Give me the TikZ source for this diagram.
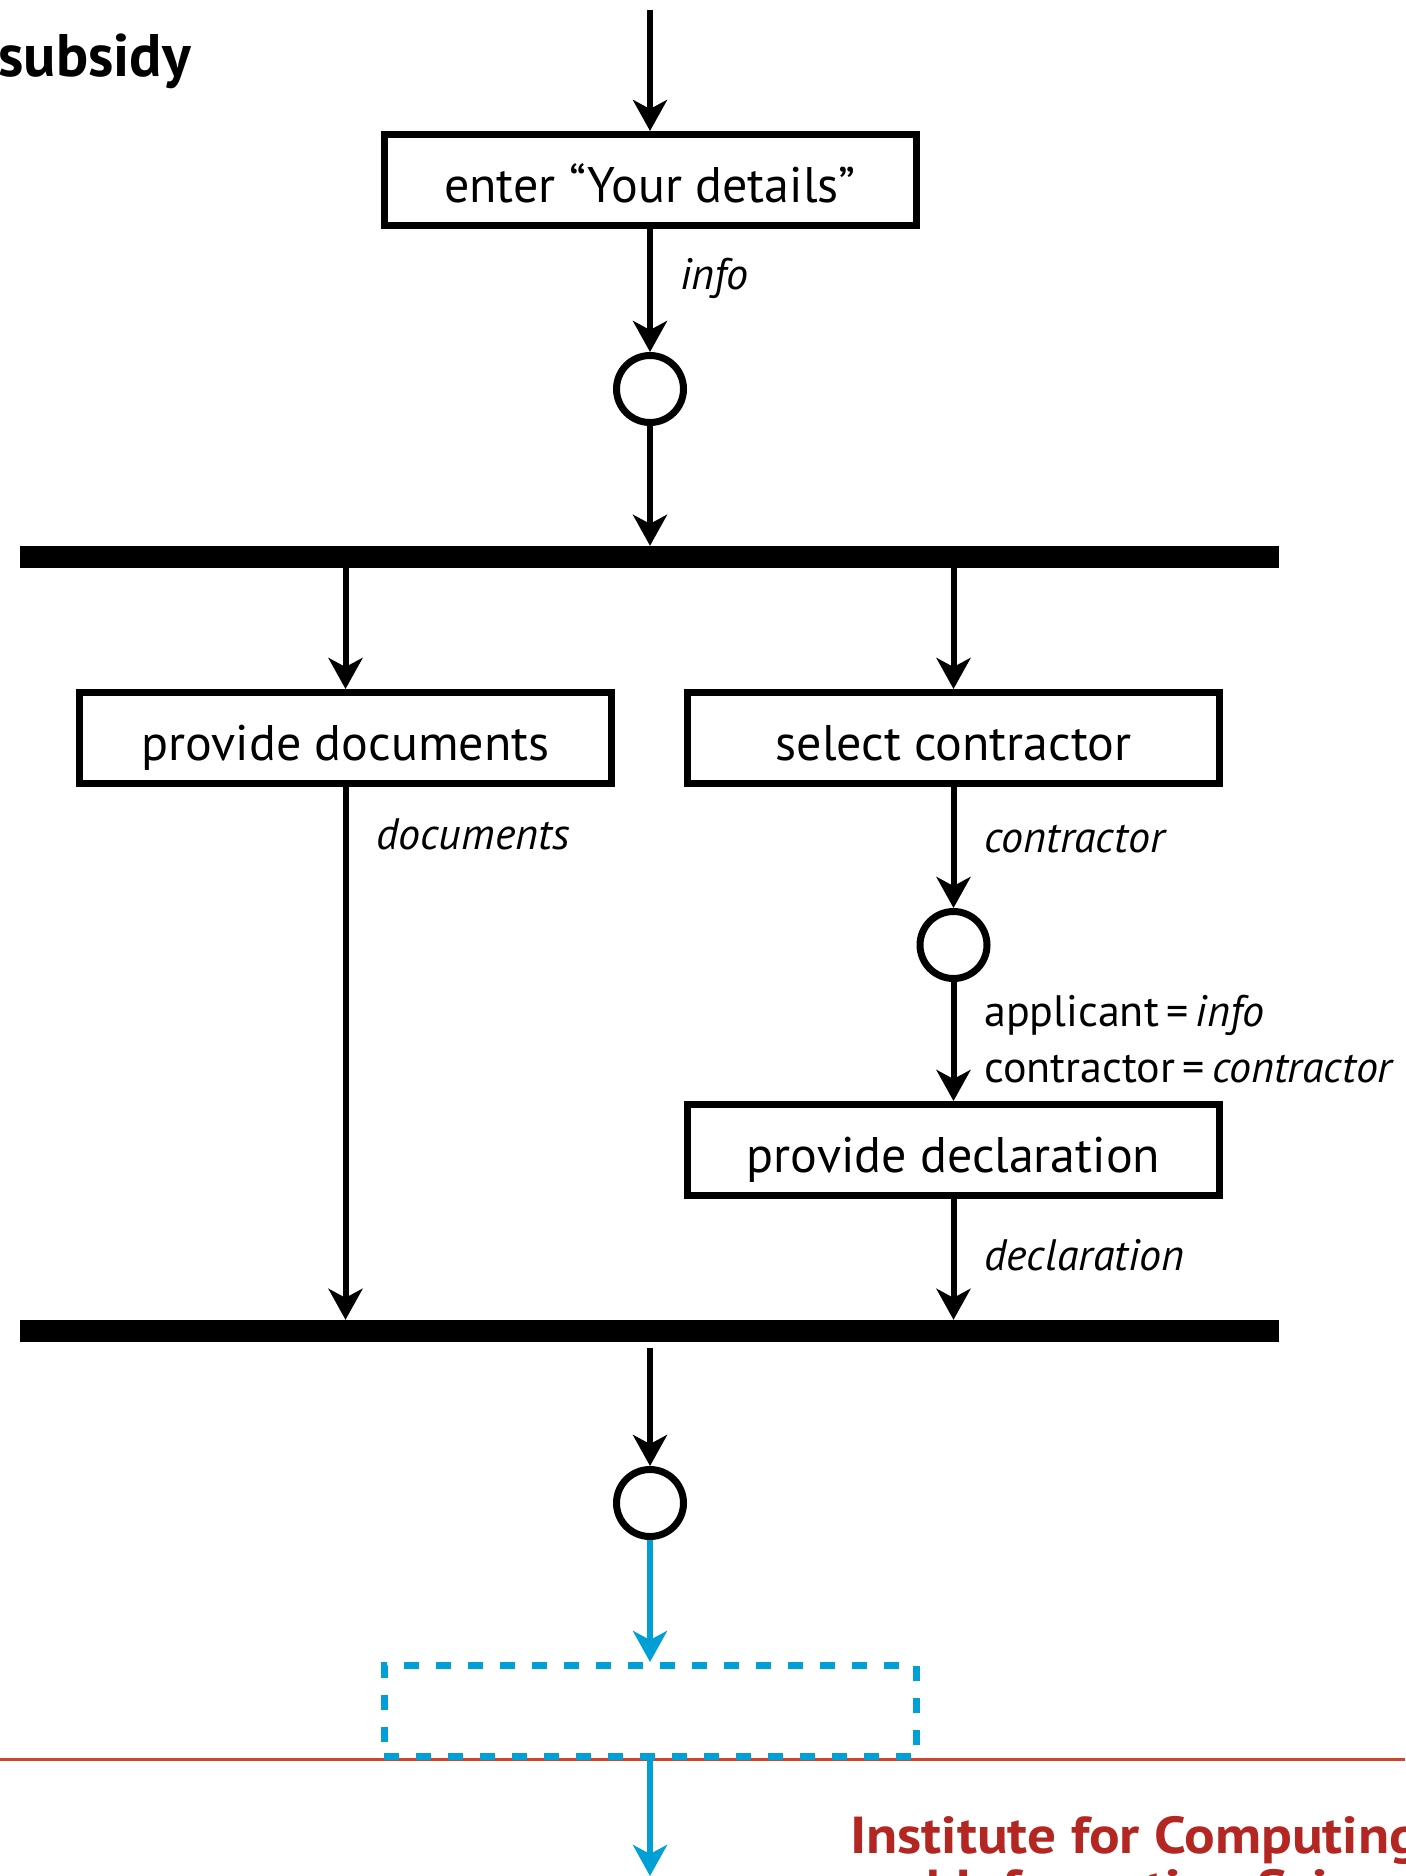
\documentclass[tikz,border=0pt]{standalone}
\usepackage{fontspec}
\setmainfont{PT Sans}
\usetikzlibrary{arrows.meta}
\definecolor{flowblue}{RGB}{0,160,214}
\definecolor{rulered}{RGB}{208,68,42}
\definecolor{brandred}{RGB}{180,38,34}
\begin{document}
\begin{tikzpicture}[x=1pt,y=-1pt,
  act/.style={draw, line width=7pt, minimum width=532pt, minimum height=91pt,
    inner sep=0pt, text height=50pt, text depth=6pt,
    font=\fontsize{50}{60}\selectfont},
  ghost/.style={draw=flowblue, dash pattern=on 15pt off 17pt, line width=7pt,
    minimum width=532pt, minimum height=91pt, inner sep=0pt},
  state/.style={circle, draw, line width=7pt, minimum size=67pt, inner sep=0pt},
  bar/.style={fill, inner sep=0pt, minimum width=1259pt, minimum height=22pt},
  flow/.style={line width=6pt, -{Stealth[length=31pt,width=34pt,inset=9pt]}},
  lab/.style={anchor=west, inner sep=0pt, font=\fontsize{44}{52}\selectfont},
  footer/.style={anchor=base west, inner sep=0pt, text=brandred,
    font=\fontsize{52}{56}\bfseries\addfontfeature{FakeStretch=1.1}},
]
\useasboundingbox (0,0) rectangle (1405,1876);
\clip (0,0) rectangle (1405,1876);

% title fragment and footer
\node[anchor=base east, inner sep=0pt, font=\fontsize{60}{66}\bfseries] (title) at (191,77) {subsidy};
\coordinate (ruleL) at (0,1759);
\coordinate (ruleR) at (1405,1759);
\draw[rulered, line width=3pt] (ruleL) -- (ruleR);
\node[footer] (inst1) at (850,1853) {Institute for Computing};
\node[footer] (inst2) at (850,1906) {and Information Sciences};

% activity flow
\coordinate (start) at (650,10);
\node[act] (enter) at (650,180) {enter “Your details”};
\draw[flow] (start) -- (enter);

\node[state] (s1) at (650,389) {};
\draw[flow] (enter) -- (s1);
\node[lab] (linfo) at (680,278) {\textit{info}};

\node[bar] (fork) at (649.5,557) {};
\draw[flow] (s1) -- (s1 |- fork.north);

\node[act] (docs) at (345.5,738) {provide documents};
\node[act] (contr) at (953.5,738) {select contractor};
\draw[flow] (docs |- fork.south) -- (docs);
\draw[flow] (contr |- fork.south) -- (contr);

\node[state] (s2) at (953.5,945) {};
\draw[flow] (contr) -- (s2);
\node[lab] (lcontr) at (984,839) {\textit{contractor}};

\node[act] (decl) at (953.5,1150) {provide declaration};
\draw[flow] (s2) -- (decl);
\node[lab] (lapp) at (984,1015) {applicant\,=\,\textit{info}};
\node[lab] (lcon2) at (984,1069) {contractor\,=\,\textit{contractor}};

\node[bar] (join) at (649.5,1331) {};
\draw[flow] (docs) -- (docs |- join.north);
\node[lab] (ldocs) at (376,834) {\textit{documents}};
\draw[flow] (decl) -- (decl |- join.north);
\node[lab] (ldecl) at (984,1255) {\textit{declaration}};

\node[state] (s3) at (650,1503) {};
\draw[flow, shorten <=6pt] (s3 |- join.south) -- (s3);

\node[ghost] (next) at (650,1711) {};
\draw[flow, flowblue] (s3) -- (next);
\coordinate (out) at (650,1876);
\draw[flow, flowblue] (next) -- (out);
\end{tikzpicture}
\end{document}
